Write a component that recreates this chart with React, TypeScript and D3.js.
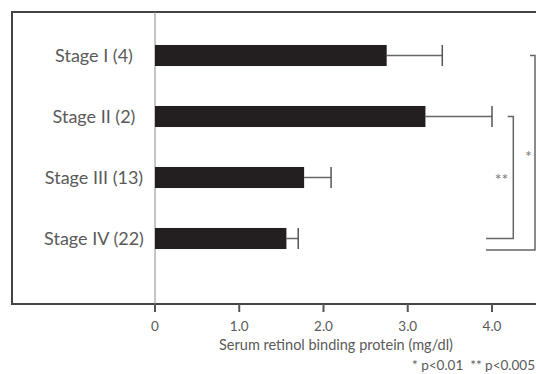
import React from 'react';
import * as d3 from 'd3';

const stages = ['Stage I (4)', 'Stage II (2)', 'Stage III (13)', 'Stage IV (22)'];
const means = [2.75, 3.21, 1.77, 1.56];
const errors = [0.66, 0.79, 0.32, 0.14];
const ticks = [0, 1, 2, 3, 4];
const tickLabels = ['0', '1.0', '2.0', '3.0', '4.0'];

const width = 536;
const height = 374;
const textColor = '#5a5a5a';
const font = 'Lato, "Open Sans", sans-serif';

const App = () => {
  const x = d3.scaleLinear().domain([0, 4]).range([155, 492]);
  const y = d3.scaleBand().domain(stages).range([25, 269]).padding(0);
  const barH = y.bandwidth() * 0.345;
  const mid = (s: string) => (y(s) ?? 0) + y.bandwidth() / 2;

  const frameBottom = 304;

  // significance brackets
  const b2Top = mid(stages[1]);
  const b2Bot = mid(stages[3]);
  const b1Top = mid(stages[0]);
  const b1Bot = mid(stages[3]) + barH / 2 + 1;

  return (
    <svg
      width={width}
      height={height}
      style={{ position: 'absolute', left: 0, top: 0, background: '#fff' }}
      fontFamily={font}
    >
      <rect x={12} y={12} width={width} height={frameBottom - 12} fill="none" stroke="#444" strokeWidth={2} />
      <line x1={x(0)} x2={x(0)} y1={12} y2={frameBottom} stroke="#8a8a8a" strokeWidth={1} />

      {ticks.map((t, i) => (
        <g key={t}>
          <line x1={x(t)} x2={x(t)} y1={frameBottom} y2={frameBottom + 8} stroke="#555" strokeWidth={2} />
          <text x={x(t)} y={frameBottom + 27} textAnchor="middle" fontSize={13.5} fill={textColor}>
            {tickLabels[i]}
          </text>
        </g>
      ))}

      {stages.map((s, i) => {
        const cy = mid(s);
        return (
          <g key={s}>
            <text x={94} y={cy + 6} textAnchor="middle" fontSize={18} fill={textColor}>
              {s}
            </text>
            <line x1={x(means[i])} x2={x(means[i] + errors[i])} y1={cy} y2={cy} stroke="#666" strokeWidth={1.5} />
            <line
              x1={x(means[i] + errors[i])}
              x2={x(means[i] + errors[i])}
              y1={cy - barH / 2}
              y2={cy + barH / 2}
              stroke="#555"
              strokeWidth={1.5}
            />
            <rect x={x(0)} y={cy - barH / 2} width={x(means[i]) - x(0)} height={barH} fill="#231f20" />
          </g>
        );
      })}

      <path
        d={`M507.7,${b2Top}H513.3V${b2Bot}H486`}
        fill="none"
        stroke="#666"
        strokeWidth={1.5}
      />
      <text x={501.5} y={b2Top + 68} textAnchor="middle" fontSize={16} fill="#777">
        **
      </text>
      <path
        d={`M530,${b1Top}H535V${b1Bot}H486`}
        fill="none"
        stroke="#666"
        strokeWidth={1.5}
      />
      <text x={528.5} y={b1Top + 106} textAnchor="middle" fontSize={16} fill="#777">
        *
      </text>

      <text x={336} y={350} textAnchor="middle" fontSize={14.5} fill={textColor}>
        Serum retinol binding protein (mg/dl)
      </text>
      <text x={535} y={370} textAnchor="end" fontSize={13.5} fill={textColor}>
        * p&lt;0.01&#160;&#160;** p&lt;0.005
      </text>
    </svg>
  );
};

export default App;
